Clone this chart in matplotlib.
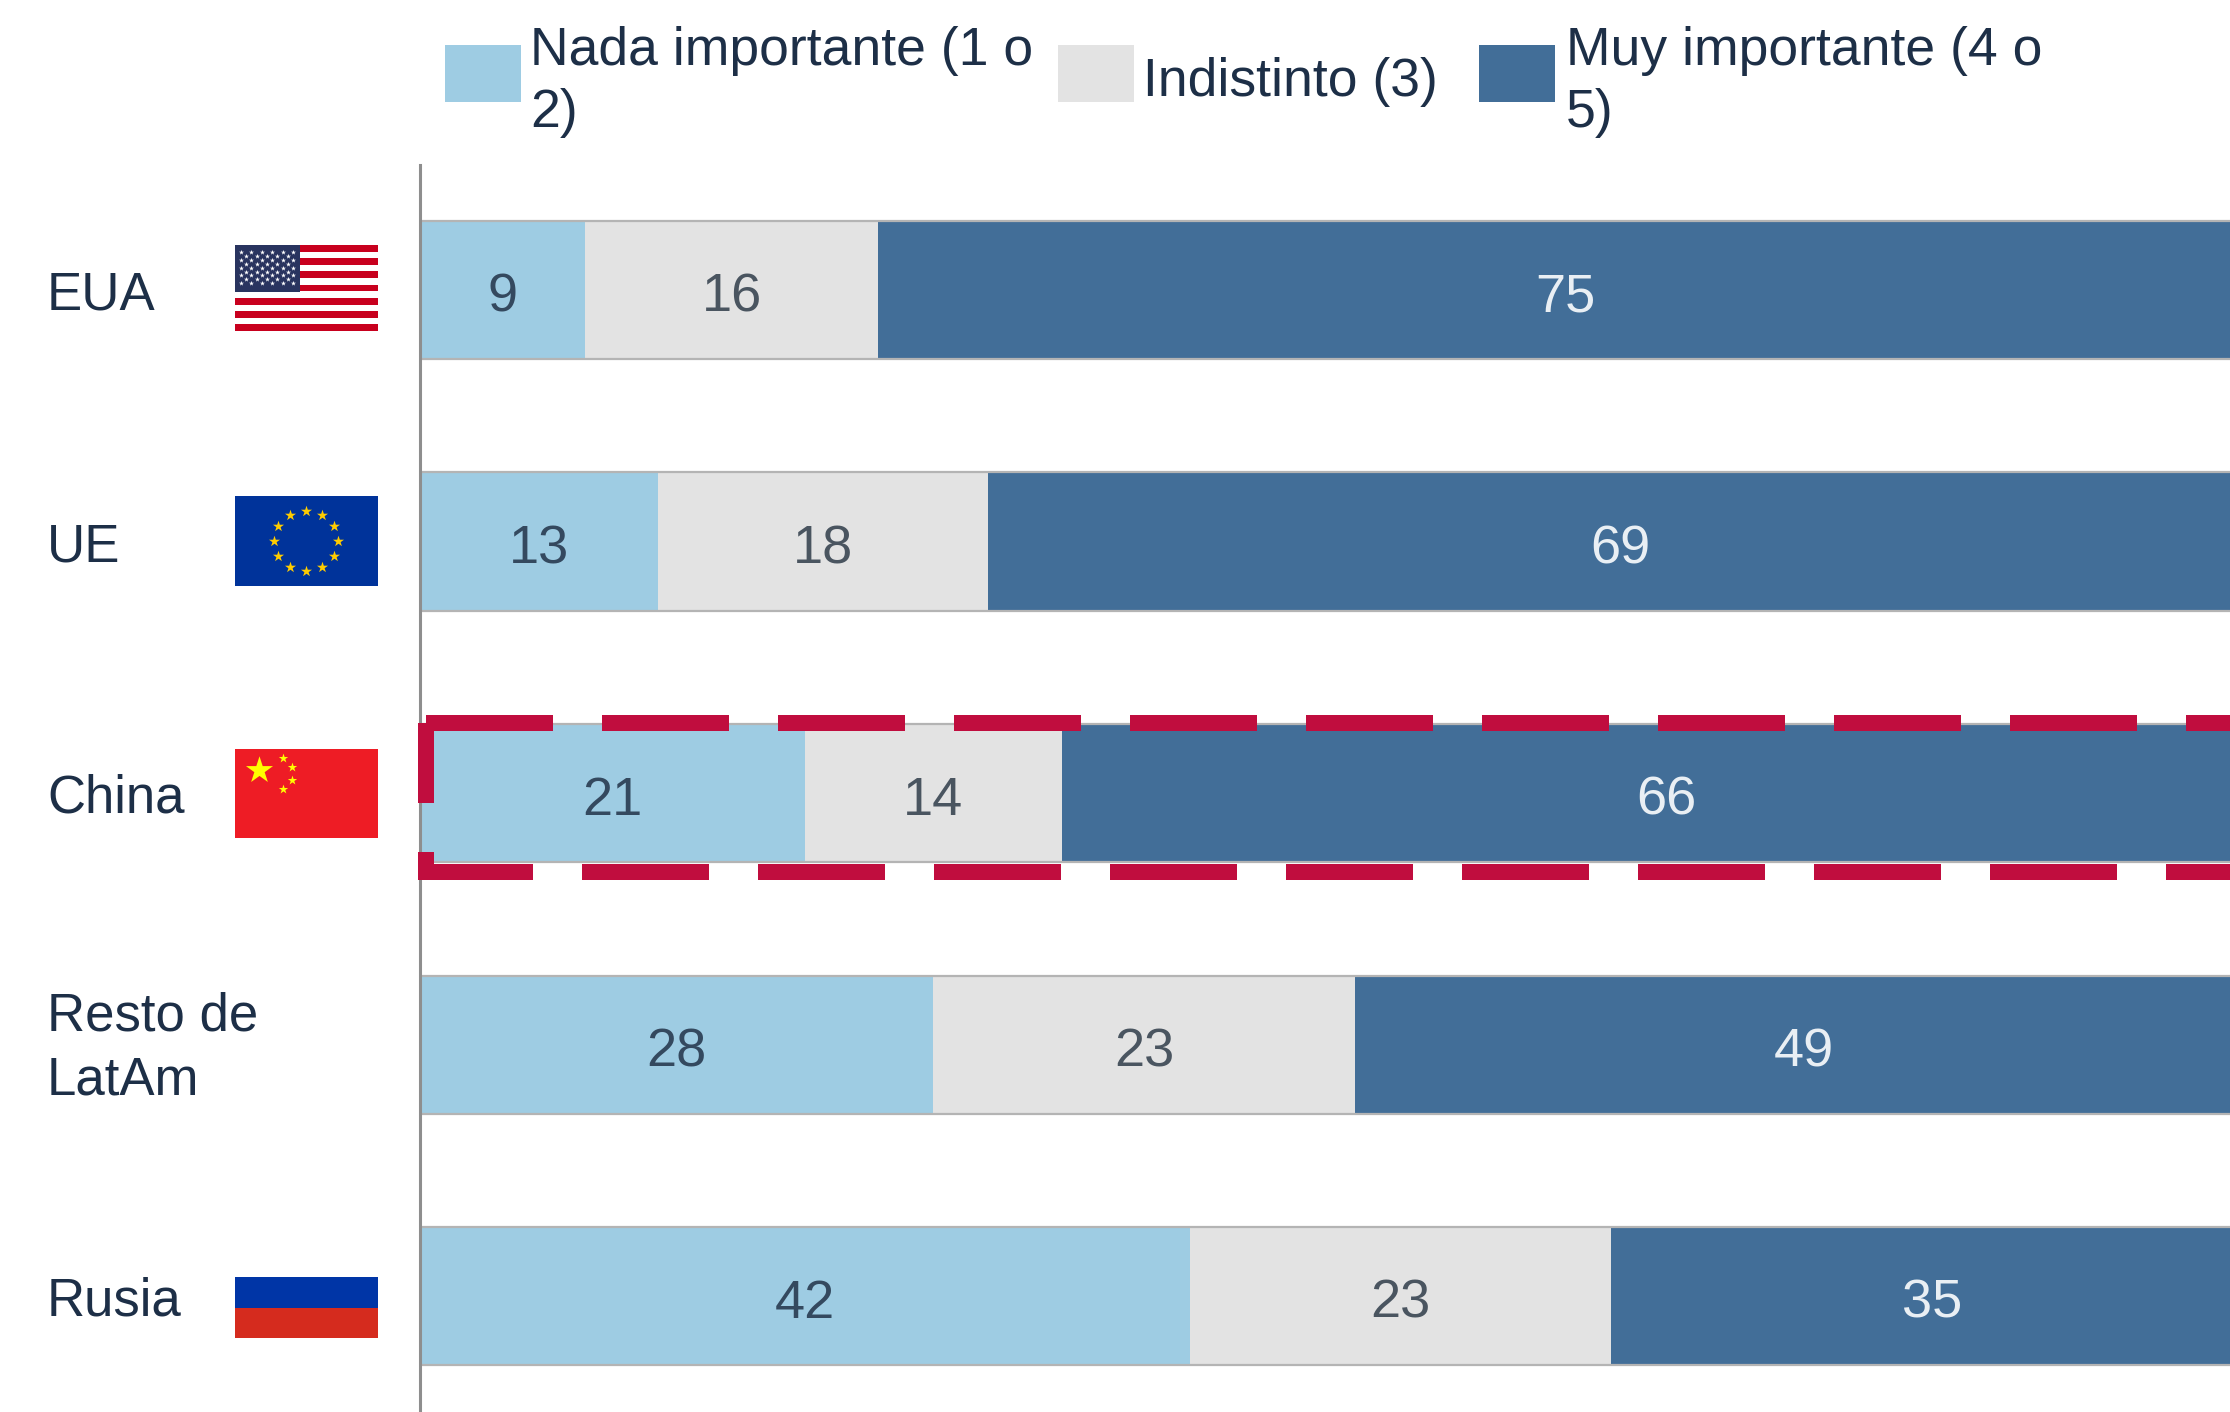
import numpy as np
import matplotlib
matplotlib.use("Agg")
import matplotlib.pyplot as plt
from matplotlib.patches import Rectangle
from matplotlib.transforms import ScaledTranslation

W, H = 2230, 1412
plt.rcParams['font.family'] = ['Liberation Sans', 'DejaVu Sans']

categories = ["EUA", "UE", "China", "Resto de\nLatAm", "Rusia"]
nada = [9, 13, 21, 28, 42]
indistinto = [16, 18, 14, 23, 23]
muy = [75, 69, 66, 49, 35]
series_names = ["Nada importante (1 o\n2)", "Indistinto (3)", "Muy importante (4 o\n5)"]
series_values = [nada, indistinto, muy]
colors = ['#9ECCE3', '#E3E3E3', '#426E98']
label_colors = ['#34495F', '#4A5560', '#E9EFF4']
TEXT = '#1D2F47'
HIGHLIGHT_ROW = 2
FS = 38

fig = plt.figure(figsize=(W / 100, H / 100), dpi=100, facecolor='white')

# main axes: about 18.33 px per percentage point, 251.5 px per row
pxx = 18.33
pxy = 251.5
ax = fig.add_axes([420 / W, 0, (W - 420) / W, (H - 165) / H])
ax.set_xlim(0, (W - 420) / pxx)
ax.set_ylim(4.46, -0.497)
y = np.arange(len(categories))
BAR_H = 0.55
left = np.zeros(len(categories))
for vals, c, lc in zip(series_values, colors, label_colors):
    vals = np.array(vals)
    ax.barh(y, vals, left=left, height=BAR_H, color=c, linewidth=0, zorder=2)
    for yi, l, v in zip(y, left, vals):
        ax.text(l + v / 2, yi + 0.03, str(v), ha='center', va='center',
                fontsize=39, color=lc, zorder=3)
    left = left + vals
ax.hlines(y - BAR_H / 2, 0, left, color='#B4B4B4', linewidth=1.6, zorder=2.5)
ax.hlines(y + BAR_H / 2, 0, left, color='#B4B4B4', linewidth=1.6, zorder=2.5)

for s in ['top', 'right', 'bottom']:
    ax.spines[s].set_visible(False)
ax.spines['left'].set_color('#8E8E8E')
ax.spines['left'].set_linewidth(2.2)
ax.spines['left'].set_zorder(5)
ax.set_xticks([])
ax.set_yticks(y, labels=categories, ha='left', fontsize=FS, color=TEXT, linespacing=1.35)
ax.tick_params(axis='y', length=0, pad=373 * 0.72)
multi = ax.get_yticklabels()[3]
multi.set_transform(multi.get_transform() + ScaledTranslation(0, 0.085, fig.dpi_scale_trans))

# dashed highlight around the China row
x_l = 6 / pxx
x_r = ax.get_xlim()[1]
y_t = HIGHLIGHT_ROW - 70 / pxy
y_b = HIGHLIGHT_ROW + 79 / pxy
dash_kw = dict(color='#C00D3E', linewidth=16 * 0.72, dash_capstyle='butt',
               dash_joinstyle='miter', clip_on=False, zorder=6)
ax.plot([x_l, x_r], [y_t, y_t], linestyle=(0, (127 / 16, 49 / 16)), **dash_kw)
ax.plot([x_r, x_l, x_l], [y_b, y_b, y_t], linestyle=(63 / 16, (127 / 16, 49 / 16)), **dash_kw)

# overlay in pixel coordinates for legend + flags
ov = fig.add_axes([0, 0, 1, 1], facecolor='none')
ov.set_xlim(0, W)
ov.set_ylim(H, 0)
ov.axis('off')

swatch_x = [445, 1058, 1479]
text_x = [530, 1143, 1566]
for sx, tx, name, c in zip(swatch_x, text_x, series_names, colors):
    ov.add_patch(Rectangle((sx, 45), 76, 57, color=c, lw=0))
    ov.text(tx, 82, name, ha='left', va='center', fontsize=38.5, color=TEXT, linespacing=1.33)


def star_marks(xs, ys, size, color):
    ov.scatter(xs, ys, s=size, marker='*', color=color, linewidths=0, zorder=4)


# USA flag
fx0, fx1, fy0, fy1 = 235, 378, 245, 331
sh = (fy1 - fy0) / 13
for i in range(13):
    ov.add_patch(Rectangle((fx0, fy0 + i * sh), fx1 - fx0, sh,
                           color='#C8001E' if i % 2 == 0 else 'white', lw=0, zorder=2))
ov.add_patch(Rectangle((fx0, fy0), 65, 46.5, color='#29345F', lw=0, zorder=3))
sx, sy = [], []
for r in range(9):
    n = 6 if r % 2 == 0 else 5
    for k in range(n):
        sx.append(fx0 + 6 + 10.4 * k + (0 if r % 2 == 0 else 5.2))
        sy.append(fy0 + 7 + 3.9 * r)
star_marks(sx, sy, 14, 'white')

# EU flag
ov.add_patch(Rectangle((235, 496), 143, 90, color='#00339A', lw=0, zorder=2))
ang = np.deg2rad(np.arange(0, 360, 30))
star_marks(306 + 32 * np.cos(ang), 541 + 30 * np.sin(ang), 70, '#FFCC00')

# China flag
ov.add_patch(Rectangle((235, 749), 143, 89, color='#EE1C25', lw=0, zorder=2))
star_marks([258.5], [770], 420, '#FFFF00')
star_marks([283, 292, 292, 283], [758, 767, 780, 789], 50, '#FFFF00')

# Russia flag
ov.add_patch(Rectangle((235, 1277), 143, 31, color='#0035A6', lw=0, zorder=2))
ov.add_patch(Rectangle((235, 1308), 143, 30, color='#D52B1E', lw=0, zorder=2))

fig.savefig('out.png', dpi=100)
